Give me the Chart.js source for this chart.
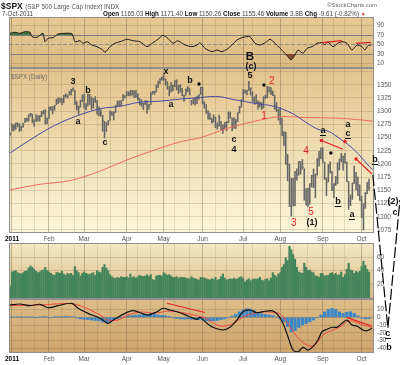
<!DOCTYPE html>
<html>
<head>
<meta charset="utf-8">
<script src="https://cdn.jsdelivr.net/npm/chart.js@4.4.0/dist/chart.umd.min.js"></script>
<style>
  body { margin: 0; background: #fff; width: 400px; height: 365px; overflow: hidden; position: relative;
         font-family: "Liberation Sans", Arial, Helvetica, sans-serif; }
  canvas { position: absolute; left: 0; top: 0; }
  #cPrice { z-index: 2; }
  .hd { position: absolute; white-space: nowrap; color: #222; z-index: 3; }
  .hd b { color: #111; }
</style>
</head>
<body>
<div class="hd" style="left:1px;top:1px;font-size:8.5px"><b>$SPX</b> <span style="font-size:6.3px;color:#555">(S&amp;P 500 Large Cap Index) INDX</span></div>
<div class="hd" style="left:2px;top:10px;font-size:6.3px;color:#444">7-Oct-2011</div>
<div class="hd" style="left:103px;top:10px;font-size:6.3px;color:#444"><b>Open</b> 1165.03 <b>High</b> 1171.40 <b>Low</b> 1150.26 <b>Close</b> 1155.46 <b>Volume</b> 3.8B <b>Chg</b> -9.61 (-0.82%) <span style="color:#d22;font-size:5px">&#9660;</span></div>
<div class="hd" style="left:327px;top:2px;font-size:6px;color:#666">&copy;StockCharts.com</div>
<div class="hd" style="left:11px;top:73px;font-size:6.3px;color:#6a6a6a">$SPX (Daily)</div>

<canvas id="cRsi" width="400" height="365"></canvas>
<canvas id="cVol" width="400" height="365"></canvas>
<canvas id="cMacd" width="400" height="365"></canvas>
<canvas id="cPrice" width="400" height="365"></canvas>

<script>
// ========================================
// $SPX daily, 31 Dec 2010 .. 7 Oct 2011
// ========================================

const FONT = '"Liberation Sans", Arial, Helvetica, sans-serif';
Chart.defaults.font.family = FONT;
Chart.defaults.animation = false;

// index 0 = 31 Dec 2010, then one entry per trading day (day number = index - 1)
const highs = [1259.3,
  1276.2,1274.1,1277.6,1278.2,1276.2,1271.5,1277.6,1286.3,1286.7,1293.2,1296.1,1294.4,1283.9,1293.4,1291.3,1291.3,1299.7,1301.3,1302.7,1287.2,
  1308.0,1308.6,1308.6,1311.0,1322.9,1324.9,1324.6,1323.7,1330.0,1332.5,1330.6,1337.8,1341.5,1344.1,1338.9,1318.0,1310.1,1320.6,1330.6,
  1332.3,1314.4,1332.3,1332.0,1327.2,1324.0,1327.7,1320.0,1308.4,1302.7,1292.4,1280.9,1278.7,1282.8,1300.6,1299.2,1299.0,1311.3,1319.2,1319.7,1320.0,1331.7,1329.8,
  1337.9,1336.7,1339.5,1339.4,1338.8,1339.5,1333.2,1324.5,1321.4,1314.8,1319.7,1319.7,1312.7,1336.1,1337.5,1337.5,1349.6,1357.1,1361.7,1364.6,
  1370.6,1360.8,1355.7,1346.6,1354.4,1349.4,1357.5,1359.4,1348.9,1350.5,1343.3,1330.4,1341.9,1346.8,1342.8,1320.6,1323.7,1325.9,1328.5,1331.1,1345.2,
  1345.2,1318.0,1312.3,1300.6,1296.2,1287.0,1293.3,1288.9,1277.9,1292.5,1280.9,1274.3,1279.0,1280.4,1298.6,1298.6,1286.8,1287.9,1284.9,1296.9,1309.2,1322.0,
  1341.0,1340.0,1340.1,1356.5,1343.8,1336.8,1327.2,1331.5,1319.8,1317.4,1316.1,1327.2,1330.4,1347.0,1346.1,1344.8,1338.2,1330.0,1316.3,1303.5,
  1307.4,1286.6,1261.0,1260.1,1218.4,1199.4,1172.9,1172.7,1186.0,1190.7,1204.5,1204.5,1208.5,1191.1,1153.4,1154.6,1162.4,1178.5,1190.7,1181.2,1210.1,1224.0,1230.7,
  1230.7,1203.3,1174.0,1198.6,1204.0,1185.9,1162.4,1176.4,1202.4,1209.1,1220.1,1215.0,1220.4,1204.3,1166.6,1141.7,1164.2,1195.9,1184.4,1175.3,1160.4,
  1139.0,1125.1,1146.1,1165.0,1171.4];
const lows = [1254.2,
  1262.2,1262.7,1265.4,1270.4,1261.7,1262.9,1269.6,1278.2,1280.5,1281.1,1290.2,1278.2,1271.3,1280.7,1281.1,1281.1,1289.5,1294.4,1275.9,1276.3,
  1286.1,1302.0,1294.8,1301.6,1312.3,1314.4,1317.3,1312.0,1316.1,1326.9,1324.6,1330.3,1331.0,1338.1,1312.7,1302.1,1294.3,1307.6,1318.4,
  1306.1,1302.6,1310.1,1312.6,1303.2,1305.8,1316.4,1294.5,1291.0,1290.4,1261.9,1249.1,1261.6,1274.0,1282.4,1292.4,1283.4,1297.8,1310.2,1310.2,1310.2,1320.3,1325.0,
  1328.9,1329.1,1329.0,1330.7,1326.0,1326.0,1321.1,1311.8,1309.2,1303.2,1312.3,1295.9,1303.9,1312.7,1332.5,1331.5,1336.1,1344.5,1352.1,1358.7,
  1358.6,1349.5,1341.5,1329.2,1336.4,1338.5,1346.4,1340.1,1333.5,1336.1,1329.4,1318.5,1330.4,1336.6,1330.7,1311.8,1313.9,1311.8,1314.4,1322.1,1331.9,
  1313.7,1305.6,1296.0,1284.9,1284.7,1277.4,1279.6,1268.8,1265.6,1272.0,1265.1,1258.1,1267.6,1262.7,1278.4,1286.8,1262.9,1267.3,1267.4,1280.3,1296.7,1307.4,
  1320.6,1334.3,1330.9,1339.2,1330.7,1318.5,1313.3,1314.6,1303.6,1307.9,1303.0,1306.0,1323.7,1325.7,1336.0,1331.1,1329.6,1303.5,1299.2,1283.0,
  1274.9,1254.0,1234.6,1199.5,1168.1,1119.3,1101.5,1120.8,1121.1,1169.2,1179.0,1180.9,1190.2,1131.3,1122.0,1119.3,1124.6,1156.3,1155.0,1135.9,1179.0,1195.8,1209.4,
  1203.1,1170.6,1140.1,1166.0,1183.3,1149.3,1136.1,1159.1,1162.5,1189.0,1204.3,1188.5,1201.6,1166.8,1114.2,1121.1,1132.9,1163.0,1150.8,1139.9,1131.3,
  1098.9,1074.8,1116.1,1144.0,1150.3];
const closes = [1257.6,
  1271.9,1270.2,1276.6,1273.9,1271.5,1269.8,1274.5,1286.0,1283.8,1293.2,1295.0,1281.9,1280.3,1283.4,1290.8,1291.2,1296.6,1299.5,1276.3,1286.1,
  1307.6,1304.0,1307.1,1310.9,1319.1,1324.6,1320.9,1321.9,1329.2,1332.3,1328.0,1336.3,1340.4,1343.0,1315.4,1307.4,1306.1,1319.9,1327.2,
  1306.3,1308.4,1331.0,1321.2,1310.1,1321.8,1320.0,1295.1,1304.3,1296.4,1281.9,1256.9,1273.7,1279.2,1298.4,1293.8,1297.5,1309.7,1313.8,1310.2,1319.4,1328.3,1325.8,
  1332.4,1332.9,1332.6,1335.5,1333.5,1328.2,1324.5,1314.2,1314.4,1314.5,1319.7,1305.1,1312.6,1330.4,1337.4,1335.3,1347.2,1355.7,1360.5,1363.6,
  1361.2,1356.6,1347.3,1335.1,1340.2,1346.3,1357.2,1342.1,1348.7,1337.8,1329.5,1329.0,1340.7,1343.6,1333.3,1317.4,1316.3,1320.5,1325.7,1331.1,1345.2,
  1314.6,1312.9,1300.2,1286.1,1284.9,1279.6,1289.0,1271.0,1271.8,1287.9,1265.4,1267.6,1271.5,1278.4,1295.5,1287.1,1283.5,1268.5,1280.1,1296.7,1307.4,1320.6,
  1339.7,1337.9,1339.2,1353.2,1343.8,1319.5,1313.6,1317.7,1309.0,1316.1,1305.4,1326.7,1325.8,1343.8,1345.0,1337.4,1331.9,1304.9,1300.7,1292.3,
  1287.0,1254.1,1260.3,1200.1,1199.4,1119.5,1172.5,1120.8,1172.6,1178.8,1204.5,1192.8,1193.9,1140.7,1123.5,1123.8,1162.4,1177.6,1159.3,1176.8,1210.1,1212.9,1218.9,
  1204.4,1174.0,1165.2,1198.6,1185.9,1154.2,1162.3,1172.9,1188.7,1209.1,1216.0,1204.1,1202.1,1166.8,1129.6,1136.4,1163.0,1175.4,1151.1,1160.4,1131.4,
  1099.2,1124.0,1144.0,1165.0,1155.5];
// volume in hundred millions
const volumes = [17,
  38,39,40,37,36,35,37,39,40,44,47,45,42,39,37,38,40,41,45,40,
  38,36,34,33,37,37,36,39,35,33,36,35,36,33,46,40,37,32,36,
  38,36,35,34,36,37,33,40,38,37,45,49,44,40,34,31,29,29,30,29,31,30,30,
  31,29,35,30,31,29,31,33,32,31,32,34,31,34,27,26,32,33,33,32,
  37,35,33,34,32,30,30,31,29,30,30,30,29,28,28,31,29,28,27,26,30,
  30,29,28,27,26,28,27,30,26,27,31,35,29,26,27,28,27,29,27,28,30,31,
  28,23,26,28,25,27,28,27,28,30,26,25,27,28,25,29,37,33,31,35,
  37,45,49,59,55,76,71,64,57,45,38,37,36,51,45,40,41,38,37,32,32,30,36,
  35,32,33,33,36,37,34,36,33,34,38,30,34,42,51,41,40,36,39,37,39,
  46,54,48,42,38];

// x axis: trading-day numbers of month starts and of the light grid lines
const monthDays = [0, 20, 39, 62, 82, 103, 125, 145, 168, 189];
const monthNames = ['2011', 'Feb', 'Mar', 'Apr', 'May', 'Jun', 'Jul', 'Aug', 'Sep', 'Oct'];
const thirdDays = [5, 12, 27, 34, 46, 53, 68, 75, 88, 96, 110, 116, 130, 137, 152, 160, 174, 180];

// moving averages [day, price]
const ma50 = [[-1,1221],[14,1255],[23,1273],[35,1291],[48,1305],[58,1309],[69,1317],[80,1319],[91,1323],[99,1325],
  [110,1328],[120,1322],[131,1315],[142,1309],[149,1300],[153,1293],[158,1281],[166,1265],[171,1262],[178,1246],
  [185,1227],[193,1196],[195,1189]];
const ma200 = [[-1,1151],[14,1161],[32,1169],[48,1187],[58,1202],[75,1224],[91,1242],[101,1249],[117,1268],
  [135,1284],[146,1290],[158,1288],[175,1287],[187,1284],[195,1281]];

// RSI(14) [day, value]
const rsi = [[-1.1,73.6],[1.6,75.8],[4.3,73.6],[7,77],[9.7,75.8],[10.8,66.5],[13.5,65.2],[16.8,73.6],[17.8,55.9],
  [19.5,63.1],[22.2,64.4],[24.9,72.2],[28.6,73.6],[32.4,72.8],[34.1,55.9],[36.8,58],[38.4,52.6],[40.5,55.9],
  [43.2,49],[45.9,45.4],[48.6,39.9],[50.3,33.6],[53,45.4],[55.7,52.6],[58.4,55.9],[62.2,61],[65.4,58],[69.2,55.9],
  [73,45.4],[76.2,53.8],[78.9,61],[81.6,69.4],[84.3,63.1],[87,52.6],[89.7,58],[93.5,49],[97.3,45.4],[100,49],
  [101.6,53.8],[104.3,42],[108.1,34.9],[110.8,38.4],[113.5,34.9],[116.2,39.9],[118.9,49],[121.6,59.5],[124.9,65.2],
  [128.6,66.5],[131.4,52.6],[134.1,49],[136.8,53.8],[139.5,61],[142.2,52.6],[144.9,42],[147.6,31.5],[149.2,24.3],
  [150.8,17.4],[153,27.9],[154.6,38.4],[157.3,31.5],[159.5,42],[162.2,45.4],[164.9,52.6],[167.6,53.8],[169.2,49],
  [170.8,55.9],[173.5,45.4],[176.2,52.6],[178.4,55.9],[181.1,52.6],[183.8,38.4],[186.5,49],[189.2,45.4],[190.8,38.4],
  [192.4,47.5],[194.1,49]];

// MACD line, signal line, histogram [day, value]
const macd = [[-1.1,15.8],[4.3,17.1],[9.7,14.9],[15.1,16.7],[19.5,12.3],[24.9,14.9],[32.4,18],[35.7,11.6],[41.1,5.1],
  [47.6,-1.3],[50.3,-5.6],[51.9,-7.7],[55.7,-2.2],[61.1,5.1],[65.4,8.5],[69.2,5.9],[73.5,3],[78.4,7.2],[81.6,11.6],
  [85.4,9.4],[90.8,5.9],[95.1,1.7],[100,-2.6],[101.6,0],[105.4,-7.7],[108.6,-12.8],[114.1,-16.3],[117.8,-12.8],
  [121.6,-3.5],[124.9,7.2],[128.6,9.4],[132.4,5.9],[135.7,7.2],[140.5,8.5],[143.8,3],[146.5,-7.7],[149.2,-24.9],
  [151.9,-42],[154.6,-44.2],[157.3,-38.5],[160,-42],[162.7,-37.7],[165.4,-29.1],[167.6,-18.5],[170.3,-15.4],
  [173,-12.8],[175.7,-12.8],[178.4,-7.7],[181.1,-3.5],[183.8,-9.9],[186.5,-11.2],[189.7,-16.3],[191.9,-17.2],[194.6,-14.1]];
const signal = [[-1.1,15.1],[15.1,15.8],[32.4,17.5],[41.1,10.7],[47.6,3],[51.9,-3.5],[57.3,-3.5],[62.7,3],[69.2,6.8],
  [77.3,5.5],[85.4,8.1],[96.2,4.2],[104.3,-0.9],[112.4,-11.2],[118.9,-8.6],[125.9,1.7],[135.1,6.8],[143.8,5.5],
  [146.5,0.8],[150.3,-12.1],[154.1,-24.9],[156.8,-31.3],[159.5,-35.6],[162.7,-36.8],[165.4,-31.3],[168.1,-22.7],
  [173.5,-16.3],[178.9,-9.9],[181.6,-4.7],[185.4,-5.6],[189.7,-9.9],[194.6,-12.8]];
const hist = [[-1,0.3],[1,0.5],[3,0.8],[5,0.5],[7,0.3],[9,0.6],[11,0.2],[13,-0.3],[15,0.5],[17,1],[19,0.6],[21,-0.5],
  [23,0.3],[25,0.8],[27,1],[29,1.2],[31,1],[33,0.8],[35,-1],[37,-2],[39,-2.5],[41,-3],[43,-3.5],[45,-4],[47,-4.5],
  [49,-6],[51,-7],[53,-6],[55,-4],[57,-2],[59,-0.5],[61,0.8],[63,2],[65,2.5],[67,3],[69,3.2],[71,3.5],[73,4],[75,4.5],
  [77,4],[79,3],[81,2.5],[83,2],[85,1],[87,-0.5],[89,-1.5],[91,-2],[93,-2.5],[95,-2],[97,-2.5],[99,-3],[101,-3],
  [103,-3.5],[105,-4.5],[107,-5],[109,-4.5],[111,-4],[113,-3],[115,-2],[117,-0.5],[119,1.5],[121,4],[123,7],[125,9.5],
  [127,11],[129,10.5],[131,8.5],[133,6],[135,4.5],[137,3.5],[139,3],[141,2],[143,0.5],[145,-2],[147,-6],[149,-12],
  [151,-18.5],[153,-17],[155,-13],[157,-10],[159,-8],[161,-6],[163,-3.5],[165,-0.5],[167,3],[169,7],[171,10],[173,11.5],
  [175,10],[177,7],[179,5],[181,6.5],[183,7.2],[185,5],[187,2],[189,-1],[191,-2],[193,-1.5]];

// y axis ticks
const priceTicks = [1075,1100,1125,1150,1175,1200,1225,1250,1275,1300,1325,1350,1375];
const priceLabels = [1075,1100,1125,1150,1175,1200,1225,1250,1275,1300,1325,1350];
const rsiTicks = [10, 30, 50, 70, 90];
const volTicks = [20, 40, 60];
const macdTicks = [10, 0, -10, -20, -30, -40];

// hand drawn wave count [text, day, price]
const blackLabels = [['3',33,1357],['b',41.1,1340],['a',35.7,1279.5],['c',50.3,1239.8],['x',83.2,1374.2],
  ['a',85.9,1311.7],['b',96.2,1357.2],['(c)',129.2,1383.7],['5',128.6,1366.7],['c',120,1247.3],['4',120,1226.5],
  ['a',181.6,1273.9],['(1)',162.2,1088.3],['(2)',206,1128],['c',207,1107.2],['b',203.8,851.5]];
const underLabels = [['a',168.1,1262.5],['c',181.6,1256.8],['b',176.2,1128],['a',183.8,1103.4],['b',196.2,1207.6],['c',203.2,878]];
const bigLabels = [['B',128.6,1402.7]];
const redLabels = [['2',140.5,1357.2],['1',136.2,1290.9],['3',152.4,1088.3],['5',161.6,1109.1],['4',158.9,1224.6]];
const blackDots = [[101.1,1351.5],[136.2,1349.6],[172.4,1220.8]];
const redDots = [[167.3,1244.5],[180,1242.6],[186,1209.5]];
const redTrend1 = [[167.3,1244.5],[178.9,1227.8]];
const redTrend2 = [[186,1209.5],[194.6,1181]];
const projection = [[195.1,1179.2],[203.2,889.4],[209.7,1131.8]];
const rsiTrend1 = [[167.6,53.8],[178.4,58]];
const rsiTrend2 = [[186,52.6],[194,54.7]];
const macdTrend1 = [[83.8,18],[104.3,6.2]];
const macdTrend2 = [[180.9,0],[194.4,-11.2]];

// ----------------------------------------
const X_MIN = -1.62, X_MAX = 195.7;
const gridDays = monthDays.concat(thirdDays).sort((a, b) => a - b);
const toXY = arr => arr.map(p => ({ x: p[0], y: p[1] }));

function xScale(showLabels) {
    return {
        type: 'linear', min: X_MIN, max: X_MAX, offset: false,
        afterBuildTicks: s => { s.ticks = gridDays.map(v => ({ value: v })); },
        afterFit: s => { s.height = showLabels ? 10 : 0; },
        grid: {
            offset: false, drawTicks: false,
            color: c => monthDays.includes(c.tick && c.tick.value) ? 'rgba(110,95,70,0.38)' : 'rgba(110,95,70,0.16)'
        },
        border: { display: false },
        ticks: {
            display: showLabels, autoSkip: false, maxRotation: 0, padding: 2,
            font: c => ({ family: FONT, size: 6.5, weight: (c.tick && c.tick.value === 0) ? 'bold' : 'normal' }),
            color: c => (c.tick && c.tick.value === 0) ? '#000' : '#555',
            callback: v => { const i = monthDays.indexOf(v); return i < 0 ? '' : monthNames[i]; }
        }
    };
}

function yScale(min, max, tickVals, labelVals, gridColor, dash) {
    return {
        position: 'right', min: min, max: max,
        afterBuildTicks: s => { s.ticks = tickVals.map(v => ({ value: v })); },
        afterFit: s => { s.width = 26; },
        grid: { drawTicks: false, color: gridColor || 'rgba(110,95,70,0.2)' },
        border: { display: false, dash: dash || [] },
        ticks: {
            padding: 3, font: { family: FONT, size: 6.5 }, color: '#555',
            callback: v => labelVals.includes(v) ? String(v) : ''
        }
    };
}

// gradient panel background + frame
const panelBg = {
    id: 'panelBg',
    beforeDraw(chart, args, opts) {
        const { ctx, chartArea: a } = chart;
        const g = ctx.createLinearGradient(0, a.top, 0, a.bottom);
        g.addColorStop(0, opts.top);
        g.addColorStop(1, opts.bottom);
        ctx.save();
        ctx.fillStyle = g;
        ctx.fillRect(a.left, a.top, a.right - a.left, a.bottom - a.top);
        ctx.restore();
    },
    afterDraw(chart) {
        const { ctx, chartArea: a } = chart;
        ctx.save();
        ctx.strokeStyle = '#8f8f8f';
        ctx.lineWidth = 1;
        ctx.strokeRect(Math.round(a.left) + 0.5, Math.round(a.top) + 0.5,
                       Math.round(a.right - a.left) - 1, Math.round(a.bottom - a.top) - 1);
        ctx.restore();
    }
};

function baseOptions(padTop, padBottom, bg) {
    return {
        responsive: false, animation: false, devicePixelRatio: 1,
        layout: { padding: { left: 9, right: 0, top: padTop, bottom: padBottom } },
        plugins: { legend: { display: false }, tooltip: { enabled: false }, panelBg: bg }
    };
}

// ---------------- RSI panel ----------------
const rsiOpts = baseOptions(17, 297, { top: '#e6c994', bottom: '#dcbb82' });
rsiOpts.scales = {
    x: xScale(false),
    y: yScale(0.5, 108, rsiTicks, rsiTicks,
        c => { const v = c.tick && c.tick.value; return (v === 70 || v === 30) ? '#7d7d7d' : v === 50 ? '#8d8d8d' : 'rgba(110,95,70,0.2)'; },
        c => (c.tick && c.tick.value === 50) ? [4, 2] : [])
};
new Chart(document.getElementById('cRsi'), {
    type: 'line',
    data: { datasets: [
        { data: toXY(rsiTrend1), borderColor: '#e3242b', borderWidth: 1.2, pointRadius: 0, order: 0 },
        { data: toXY(rsiTrend2), borderColor: '#e3242b', borderWidth: 1.2, pointRadius: 0, order: 0 },
        { data: toXY(rsi), borderColor: '#1a1a1a', borderWidth: 1, pointRadius: 0, tension: 0.2, order: 1,
          fill: { target: { value: 70 }, above: 'rgba(55,110,55,0.9)', below: 'rgba(0,0,0,0)' } },
        { data: toXY(rsi), borderWidth: 0, pointRadius: 0, tension: 0.2, order: 2,
          fill: { target: { value: 30 }, above: 'rgba(0,0,0,0)', below: 'rgba(130,70,40,0.95)' } }
    ] },
    options: rsiOpts,
    plugins: [panelBg]
});

// ---------------- Volume panel ----------------
const volOpts = baseOptions(243, 66, { top: '#f3e9c4', bottom: '#d9b985' });
volOpts.scales = { x: xScale(false), y: yScale(-2, 81, volTicks, volTicks) };
new Chart(document.getElementById('cVol'), {
    type: 'bar',
    data: { datasets: [
        { data: volumes.map((v, i) => ({ x: i - 1, y: v })), backgroundColor: '#44845a',
          borderColor: '#2f5f3e', borderWidth: 0, barThickness: 1.5 }
    ] },
    options: volOpts,
    plugins: [panelBg]
});

// ---------------- MACD panel ----------------
const macdOpts = baseOptions(299, 2, { top: '#ddbd88', bottom: '#cda36b' });
macdOpts.scales = {
    x: xScale(true),
    y: yScale(-45.8, 23.5, macdTicks, macdTicks,
        c => (c.tick && c.tick.value === 0) ? 'rgba(90,80,60,0.35)' : 'rgba(110,95,70,0.2)')
};
new Chart(document.getElementById('cMacd'), {
    type: 'bar',
    data: { datasets: [
        { type: 'line', data: toXY(macdTrend1), borderColor: '#e3242b', borderWidth: 1.2, pointRadius: 0, order: 0 },
        { type: 'line', data: toXY(macdTrend2), borderColor: '#e3242b', borderWidth: 1.2, pointRadius: 0, order: 0 },
        { type: 'line', data: toXY(macd), borderColor: '#111', borderWidth: 1.2, pointRadius: 0, tension: 0.3, order: 1 },
        { type: 'line', data: toXY(signal), borderColor: '#ef4a3f', borderWidth: 1, pointRadius: 0, tension: 0.3, order: 2 },
        { type: 'bar', data: toXY(hist), backgroundColor: '#3b87c8', barThickness: 2.6, order: 3 }
    ] },
    options: macdOpts,
    plugins: [panelBg]
});

// ---------------- Price panel + wave count ----------------
const waveCount = {
    id: 'waveCount',
    afterDraw(chart) {
        const { ctx, scales: { x, y } } = chart;
        const px = d => x.getPixelForValue(d), py = p => y.getPixelForValue(p);
        ctx.save();
        // projected path to the right of the last bar
        ctx.strokeStyle = '#000';
        ctx.lineWidth = 1.2;
        ctx.setLineDash([11, 3]);
        ctx.beginPath();
        projection.forEach((p, i) => i ? ctx.lineTo(px(p[0]), py(p[1])) : ctx.moveTo(px(p[0]), py(p[1])));
        ctx.stroke();
        ctx.setLineDash([]);

        ctx.textAlign = 'center';
        ctx.textBaseline = 'middle';
        ctx.fillStyle = '#111';
        ctx.font = 'bold 9px ' + FONT;
        blackLabels.forEach(l => ctx.fillText(l[0], px(l[1]), py(l[2])));
        underLabels.forEach(l => {
            const cx = px(l[1]), cy = py(l[2]);
            ctx.fillText(l[0], cx, cy);
            const w = ctx.measureText(l[0]).width;
            ctx.fillRect(cx - w / 2 - 0.5, cy + 4, w + 1, 1);
        });
        ctx.font = 'bold 11.5px ' + FONT;
        bigLabels.forEach(l => ctx.fillText(l[0], px(l[1]), py(l[2])));
        ctx.fillStyle = '#e3242b';
        ctx.font = '10px ' + FONT;
        redLabels.forEach(l => ctx.fillText(l[0], px(l[1]), py(l[2])));
        ctx.restore();
    }
};

const priceOpts = baseOptions(68, 122, { top: '#e3c38b', bottom: '#fbf7da' });
priceOpts.scales = { x: xScale(true), y: yScale(1069.3, 1381.8, priceTicks, priceLabels) };
new Chart(document.getElementById('cPrice'), {
    type: 'bar',
    data: { datasets: [
        { type: 'line', data: toXY(redTrend1), borderColor: '#e3242b', borderWidth: 1.2, pointRadius: 0, order: 0 },
        { type: 'line', data: toXY(redTrend2), borderColor: '#e3242b', borderWidth: 1.2, pointRadius: 0, order: 0 },
        { type: 'scatter', data: toXY(redDots), pointRadius: 1.8, pointBackgroundColor: '#e3242b', pointBorderWidth: 0, order: 0 },
        { type: 'scatter', data: toXY(blackDots), pointRadius: 1.7, pointBackgroundColor: '#111', pointBorderWidth: 0, order: 0 },
        { type: 'line', data: toXY(ma50), borderColor: '#4a4aa2', borderWidth: 1, pointRadius: 0,
          cubicInterpolationMode: 'monotone', order: 1 },
        { type: 'line', data: toXY(ma200), borderColor: '#f06a60', borderWidth: 1, pointRadius: 0,
          cubicInterpolationMode: 'monotone', order: 1 },
        { type: 'scatter', data: closes.map((c, i) => ({ x: i - 1, y: c })), pointStyle: 'dash', pointRadius: 1.3,
          pointBorderColor: '#6a6a6a', pointBorderWidth: 1, order: 2 },
        { type: 'bar', data: highs.map((h, i) => ({ x: i - 1, y: [lows[i], h] })), backgroundColor: '#666666',
          barThickness: 0.9, order: 3 }
    ] },
    options: priceOpts,
    plugins: [panelBg, waveCount]
});
</script>
</body>
</html>
